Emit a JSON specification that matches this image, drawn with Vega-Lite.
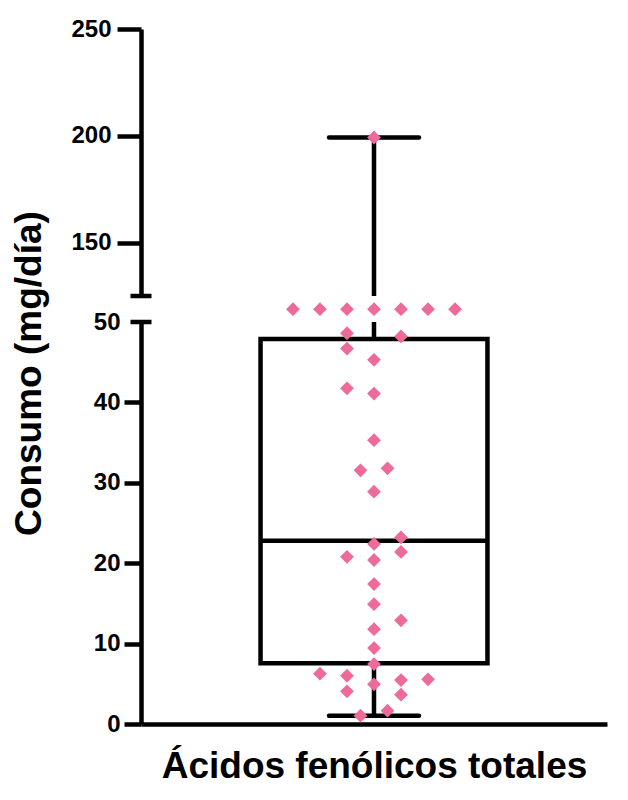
{
  "$schema": "https://vega.github.io/schema/vega-lite/v6.json",
  "background": "white",
  "padding": {"left": 9, "top": 17, "right": 5, "bottom": 5},
  "bounds": "flush",
  "spacing": 26,
  "config": {
    "font": "Liberation Sans",
    "view": {"stroke": null},
    "axis": {
      "labelFont": "Liberation Sans",
      "labelFontWeight": "bold",
      "labelFontSize": 24,
      "labelColor": "black",
      "titleFont": "Liberation Sans",
      "titleFontWeight": "bold",
      "titleFontSize": 37,
      "titleColor": "black",
      "domainColor": "black",
      "domainWidth": 4.5,
      "tickColor": "black",
      "tickWidth": 4.5,
      "grid": false
    }
  },
  "datasets": {
    "points": [
      {"value": 51.6, "slot": -6}, {"value": 51.6, "slot": -4}, {"value": 51.6, "slot": -2},
      {"value": 51.6, "slot": 0}, {"value": 51.6, "slot": 2}, {"value": 51.6, "slot": 4},
      {"value": 51.6, "slot": 6},
      {"value": 199.2, "slot": 0},
      {"value": 48.6, "slot": -2}, {"value": 48.2, "slot": 2}, {"value": 46.7, "slot": -2},
      {"value": 45.3, "slot": 0}, {"value": 41.75, "slot": -2}, {"value": 41.1, "slot": 0},
      {"value": 35.3, "slot": 0}, {"value": 31.55, "slot": -1}, {"value": 31.8, "slot": 1},
      {"value": 28.9, "slot": 0}, {"value": 23.2, "slot": 2}, {"value": 22.4, "slot": 0},
      {"value": 20.8, "slot": -2}, {"value": 21.4, "slot": 2}, {"value": 20.4, "slot": 0},
      {"value": 17.4, "slot": 0}, {"value": 14.9, "slot": 0}, {"value": 12.9, "slot": 2},
      {"value": 11.8, "slot": 0}, {"value": 9.45, "slot": 0}, {"value": 7.46, "slot": 0},
      {"value": 6.26, "slot": -4}, {"value": 6.0, "slot": -2}, {"value": 5.47, "slot": 2},
      {"value": 5.56, "slot": 4}, {"value": 4.93, "slot": 0}, {"value": 4.07, "slot": -2},
      {"value": 3.65, "slot": 2}, {"value": 1.66, "slot": 1}, {"value": 1.03, "slot": -1}
    ],
    "stats": [
      {"group": "Ácidos fenólicos totales", "min": 1.03, "q1": 7.55, "median": 22.8, "q3": 47.9, "max": 199.2}
    ]
  },
  "vconcat": [
    {
      "width": 466,
      "height": 267,
      "layer": [
        {
          "data": {"name": "stats"},
          "mark": {"type": "rule", "strokeWidth": 4.5, "color": "black"},
          "encoding": {
            "x": {"datum": 0, "type": "quantitative", "scale": {"domain": [-17.25, 17.25], "nice": false, "zero": false}, "axis": null},
            "y": {
              "field": "max", "type": "quantitative",
              "scale": {"domain": [125, 250], "nice": false, "zero": false},
              "axis": {"values": [150, 200, 250], "tickSize": 24, "labelPadding": 6, "title": null}
            },
            "y2": {"datum": 125}
          }
        },
        {
          "data": {"name": "stats"},
          "mark": {"type": "rule", "strokeWidth": 4.5, "strokeCap": "round", "color": "black"},
          "encoding": {
            "x": {"datum": -3.33, "type": "quantitative"},
            "x2": {"datum": 3.33},
            "y": {"field": "max", "type": "quantitative"}
          }
        },
        {
          "data": {"values": [{"brk": 125}]},
          "mark": {"type": "tick", "orient": "horizontal", "size": 21, "thickness": 4.5, "color": "black", "opacity": 1},
          "encoding": {
            "x": {"datum": -17.25, "type": "quantitative"},
            "y": {"field": "brk", "type": "quantitative"}
          }
        },
        {
          "data": {"name": "points"},
          "transform": [{"filter": "datum.value >= 125"}],
          "mark": {"type": "point", "shape": "diamond", "filled": true, "size": 190, "color": "#ee6a9a", "opacity": 1},
          "encoding": {
            "x": {"field": "slot", "type": "quantitative"},
            "y": {"field": "value", "type": "quantitative"}
          }
        }
      ]
    },
    {
      "width": 466,
      "height": 402,
      "layer": [
        {
          "data": {"name": "stats"},
          "mark": {"type": "rule", "strokeWidth": 4.5, "color": "black"},
          "encoding": {
            "x": {
              "datum": 0, "type": "quantitative",
              "scale": {"domain": [-17.25, 17.25], "nice": false, "zero": false},
              "axis": {"title": "Ácidos fenólicos totales", "ticks": false, "labels": false, "titlePadding": 24}
            },
            "y": {
              "field": "min", "type": "quantitative",
              "scale": {"domain": [0, 50], "nice": false},
              "axis": {
                "values": [0, 10, 20, 30, 40, 50],
                "tickSize": 17,
                "labelPadding": 4,
                "tickOpacity": {"condition": {"test": "datum.value == 50", "value": 0}, "value": 1},
                "title": "Consumo (mg/día)",
                "titleX": -93,
                "titleY": 51
              }
            },
            "y2": {"field": "q1"}
          }
        },
        {
          "data": {"name": "stats"},
          "mark": {"type": "rule", "strokeWidth": 4.5, "color": "black"},
          "encoding": {
            "x": {"datum": 0, "type": "quantitative"},
            "y": {"field": "q3", "type": "quantitative"},
            "y2": {"datum": 50}
          }
        },
        {
          "data": {"name": "stats"},
          "mark": {"type": "rule", "strokeWidth": 4.5, "strokeCap": "round", "color": "black"},
          "encoding": {
            "x": {"datum": -3.33, "type": "quantitative"},
            "x2": {"datum": 3.33},
            "y": {"field": "min", "type": "quantitative"}
          }
        },
        {
          "data": {"name": "stats"},
          "mark": {"type": "rect", "fill": "white", "stroke": "black", "strokeWidth": 4.5},
          "encoding": {
            "x": {"datum": -8.4, "type": "quantitative"},
            "x2": {"datum": 8.4},
            "y": {"field": "q1", "type": "quantitative"},
            "y2": {"field": "q3"}
          }
        },
        {
          "data": {"name": "stats"},
          "mark": {"type": "rule", "strokeWidth": 4.5, "color": "black"},
          "encoding": {
            "x": {"datum": -8.4, "type": "quantitative"},
            "x2": {"datum": 8.4},
            "y": {"field": "median", "type": "quantitative"}
          }
        },
        {
          "data": {"values": [{"brk": 50}]},
          "mark": {"type": "tick", "orient": "horizontal", "size": 21, "thickness": 4.5, "color": "black", "opacity": 1},
          "encoding": {
            "x": {"datum": -17.25, "type": "quantitative"},
            "y": {"field": "brk", "type": "quantitative"}
          }
        },
        {
          "data": {"name": "points"},
          "transform": [{"filter": "datum.value < 125"}],
          "mark": {"type": "point", "shape": "diamond", "filled": true, "size": 190, "color": "#ee6a9a", "opacity": 1},
          "encoding": {
            "x": {"field": "slot", "type": "quantitative"},
            "y": {"field": "value", "type": "quantitative"}
          }
        }
      ]
    }
  ]
}
